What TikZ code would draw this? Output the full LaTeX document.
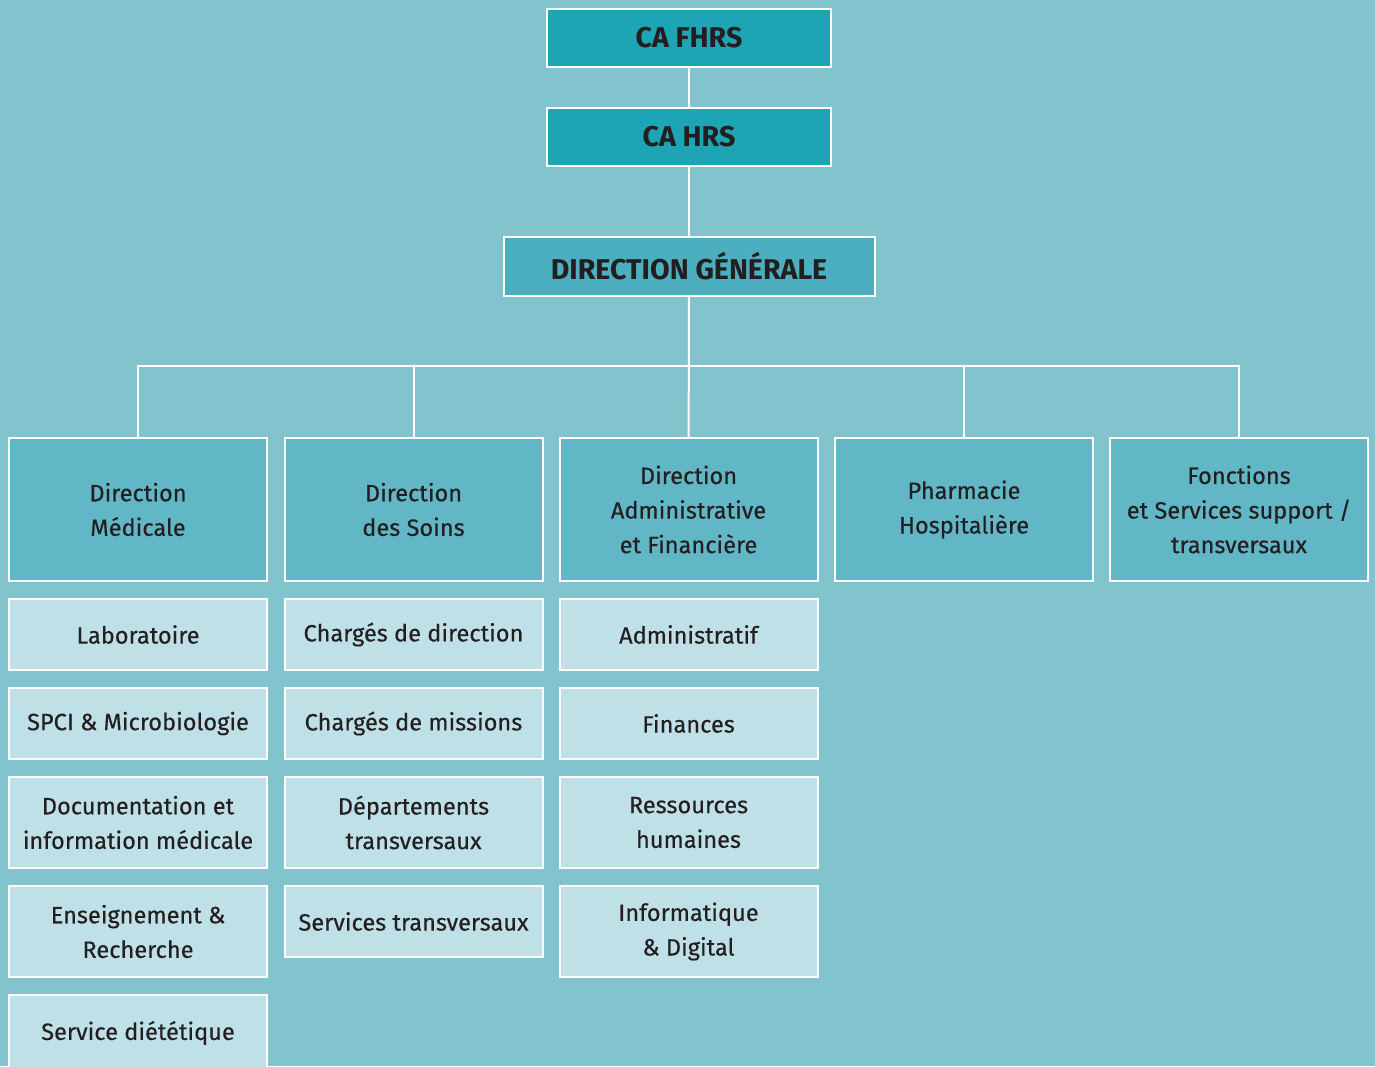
\documentclass[tikz,border=0pt]{standalone}
\usepackage{fontspec}
\setmainfont{Fira Sans}[UprightFeatures={FakeBold=0.35}]
\usetikzlibrary{positioning}

\definecolor{fond}{HTML}{82C4CD}
\definecolor{bleuca}{HTML}{1EA5B5}
\definecolor{bleudg}{HTML}{4BAFBF}
\definecolor{bleudir}{HTML}{62B7C6}
\definecolor{bleuclair}{HTML}{BFE0E6}
\definecolor{texte}{HTML}{231F20}

\tikzset{
  boite/.style={draw=white, line width=1pt, align=center, text=texte, inner sep=0pt,
    font=\fontsize{11.8}{17.3}\selectfont},
  conseil/.style={boite, fill=bleuca, minimum width=142pt, minimum height=29pt,
    font=\fontsize{14.3}{16}\selectfont\bfseries},
  generale/.style={boite, fill=bleudg, minimum width=185.5pt, minimum height=29.5pt,
    font=\fontsize{14.3}{16}\selectfont\bfseries},
  direction/.style={boite, fill=bleudir, minimum width=129pt, minimum height=71.5pt},
  service/.style={boite, fill=bleuclair, minimum width=129pt, minimum height=35.5pt},
  haut/.style={minimum height=45.5pt},
  lien/.style={draw=white, line width=1pt}
}

\begin{document}
\begin{tikzpicture}[x=0.5pt, y=-0.5pt, node distance=8pt]
  \useasboundingbox (0,0) rectangle (1375,1066);
  \clip (0,0) rectangle (1375,1066);
  \fill[fond] (0,0) rectangle (1375,1066);

  % conseils et direction generale
  \node[conseil] (fhrs) at (689,38) {CA FHRS};
  \node[conseil] (hrs) at (689,137) {CA HRS};
  \node[generale] (dg) at (689,266.5) {DIRECTION GÉNÉRALE};
  \coordinate (bus) at (689,366);

  % directions
  \node[direction] (med) at (138,509.5) {Direction\\Médicale};
  \node[direction] (soins) at (413.5,509.5) {Direction\\des Soins};
  \node[direction] (daf) at (688.5,509.5) {Direction\\Administrative\\et Financière};
  \node[direction] (pharma) at (964,509.5) {Pharmacie\\Hospitalière};
  \node[direction] (support) at (1239,509.5) {Fonctions\\et Services support /\\transversaux};

  \draw[lien] (fhrs) -- (hrs);
  \draw[lien] (hrs) -- (dg);
  \draw[lien] (dg) -- (daf);
  \foreach \d in {med, soins, pharma, support}
    \draw[lien] (\d.north) |- (bus);

  % services de la direction medicale
  \node[service, below=of med] (labo) {Laboratoire};
  \node[service, below=of labo] (spci) {SPCI \& Microbiologie};
  \node[service, haut, below=of spci] (docu) {Documentation et\\information médicale};
  \node[service, haut, below=of docu] (ens) {Enseignement \&\\Recherche};
  \node[service, minimum height=38pt, below=of ens] (diet) {Service diététique};

  % direction des soins
  \node[service, below=of soins] (chdir) {Chargés de direction};
  \node[service, below=of chdir] (chmis) {Chargés de missions};
  \node[service, haut, below=of chmis] (dept) {Départements\\transversaux};
  \node[service, below=of dept] (servtr) {Services transversaux};

  % direction administrative et financiere
  \node[service, below=of daf] (admin) {Administratif};
  \node[service, below=of admin] (fin) {Finances};
  \node[service, haut, below=of fin] (rh) {Ressources\\humaines};
  \node[service, haut, below=of rh] (info) {Informatique\\\& Digital};
\end{tikzpicture}
\end{document}
